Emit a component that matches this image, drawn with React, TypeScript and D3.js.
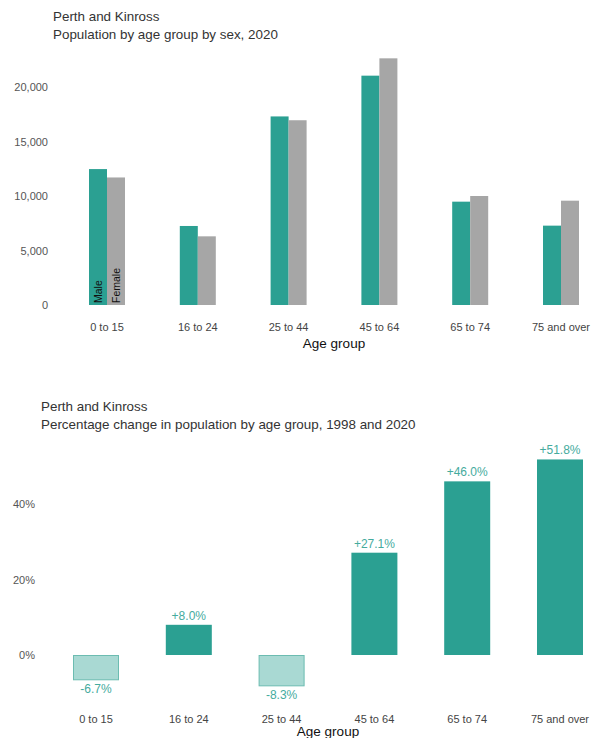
import React from "react";
import * as d3 from "d3";

// Age groups shared by both panels
const ageGroups = ["0 to 15", "16 to 24", "25 to 44", "45 to 64", "65 to 74", "75 and over"];

// Population by sex, 2020
const malePop = [12470, 7250, 17300, 21040, 9480, 7280];
const femalePop = [11700, 6300, 16950, 22630, 10000, 9570];
const popTicks = [0, 5000, 10000, 15000, 20000];

// Percentage change 1998 to 2020
const pctChange = [-6.7, 8.0, -8.3, 27.1, 46.0, 51.8];
const pctTicks = [0, 20, 40];

const TEAL = "#2ba092";
const GREY = "#a6a6a6";
const LIGHT_TEAL = "#a9d9d3";
const LABEL_TEAL = "#45ab9e";
const FONT = "'Liberation Sans', Arial, sans-serif";

export default function App() {
  const W = 591;
  const H = 738;

  // Top panel scales
  const x1 = d3.scalePoint<string>().domain(ageGroups).range([107, 561]);
  const y1 = d3.scaleLinear().domain([0, 20000]).range([305, 87]);
  const fmt = d3.format(",");
  const barW = 18;

  // Bottom panel scales
  const x2 = d3.scalePoint<string>().domain(ageGroups).range([96, 560]);
  const y2 = d3.scaleLinear().domain([0, 40]).range([655, 504]);
  const bar2W = 46;

  const fmtPct = (v: number) => (v > 0 ? "+" : "") + v.toFixed(1) + "%";

  return (
    <svg width={W} height={H} style={{ position: "absolute", left: 0, top: 0, fontFamily: FONT }}>
      <rect width={W} height={H} fill="#fff" />

      {/* Top panel: population by sex */}
      <text x={53} y={21} fontSize={13.4} fill="#333">Perth and Kinross</text>
      <text x={53} y={39} fontSize={13.4} fill="#333">Population by age group by sex, 2020</text>

      {popTicks.map((t) => (
        <text key={t} x={48} y={y1(t) + 4} textAnchor="end" fontSize={11} fill="#555">
          {fmt(t)}
        </text>
      ))}

      {ageGroups.map((g, i) => {
        const cx = x1(g)!;
        return (
          <g key={g}>
            <rect x={cx - barW} y={y1(malePop[i])} width={barW} height={y1(0) - y1(malePop[i])} fill={TEAL} />
            <rect x={cx} y={y1(femalePop[i])} width={barW} height={y1(0) - y1(femalePop[i])} fill={GREY} />
            <text x={cx} y={331} textAnchor="middle" fontSize={11} fill="#444">{g}</text>
          </g>
        );
      })}

      {/* Series names drawn inside the first pair of bars */}
      <text
        transform={`translate(${x1(ageGroups[0])! - barW / 2 + 4},${y1(0) - 2}) rotate(-90)`}
        fontSize={10.5}
        fill="#111"
      >
        Male
      </text>
      <text
        transform={`translate(${x1(ageGroups[0])! + barW / 2 + 4},${y1(0) - 2}) rotate(-90)`}
        fontSize={10.5}
        fill="#111"
      >
        Female
      </text>

      <text x={334} y={348} textAnchor="middle" fontSize={13.5} fill="#111">Age group</text>

      {/* Bottom panel: percentage change */}
      <text x={41} y={411} fontSize={13.4} fill="#333">Perth and Kinross</text>
      <text x={41} y={429} fontSize={13.4} fill="#333">Percentage change in population by age group, 1998 and 2020</text>

      {pctTicks.map((t) => (
        <text key={t} x={35} y={y2(t) + 4} textAnchor="end" fontSize={11} fill="#555">
          {t}%
        </text>
      ))}

      {ageGroups.map((g, i) => {
        const cx = x2(g)!;
        const v = pctChange[i];
        const neg = v < 0;
        const top = neg ? y2(0) : y2(v);
        const h = Math.abs(y2(v) - y2(0));
        return (
          <g key={g}>
            <rect
              x={cx - bar2W / 2 + (neg ? 0.5 : 0)}
              y={top + (neg ? 0.5 : 0)}
              width={bar2W - (neg ? 1 : 0)}
              height={h - (neg ? 1 : 0)}
              fill={neg ? LIGHT_TEAL : TEAL}
              stroke={neg ? "#6cbcb1" : "none"}
              strokeWidth={1}
            />
            <text
              x={cx}
              y={neg ? y2(v) + 13 : y2(v) - 5}
              textAnchor="middle"
              fontSize={12}
              fill={LABEL_TEAL}
            >
              {fmtPct(v)}
            </text>
            <text x={cx} y={723} textAnchor="middle" fontSize={11} fill="#444">{g}</text>
          </g>
        );
      })}

      <text x={328} y={736} textAnchor="middle" fontSize={13.5} fill="#111">Age group</text>
    </svg>
  );
}
